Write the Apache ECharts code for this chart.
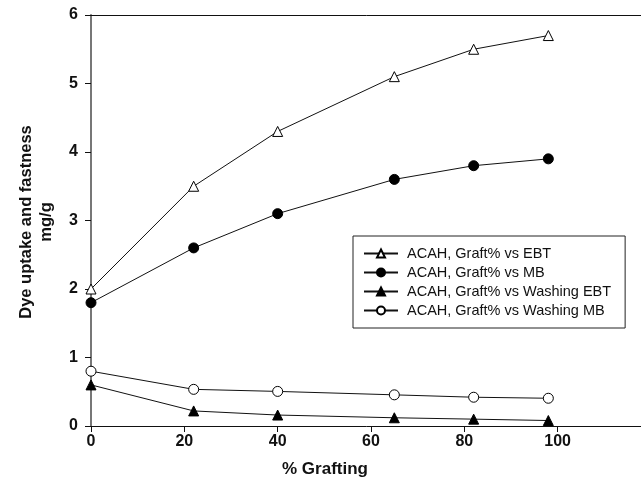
<!DOCTYPE html>
<html>
<head>
<meta charset="utf-8">
<script src="https://cdn.jsdelivr.net/npm/echarts@6/dist/echarts.min.js"></script>
<style>
  html, body { margin: 0; padding: 0; background: #fff; }
  #chart { width: 641px; height: 479px; }
</style>
</head>
<body>
<div id="chart"></div>
<script>
// Grafting percentages (x) and dye uptake / fastness values (mg/g)
const grafting = [0, 22, 40, 65, 82, 98];
const ebt = [2.0, 3.5, 4.3, 5.1, 5.5, 5.7];
const mb = [1.8, 2.6, 3.1, 3.6, 3.8, 3.9];
const washingEbt = [0.6, 0.22, 0.16, 0.12, 0.1, 0.08];
const washingMb = [0.8, 0.535, 0.505, 0.455, 0.42, 0.405];

const seriesNames = [
  'ACAH, Graft% vs EBT',
  'ACAH, Graft% vs MB',
  'ACAH, Graft% vs Washing EBT',
  'ACAH, Graft% vs Washing MB'
];

const FONT = '"Liberation Sans", Arial, sans-serif';

function pairs(ys) {
  return grafting.map((x, i) => [x, ys[i]]);
}

function makeSeries(name, ys, symbol, filled, size) {
  return {
    name: name,
    type: 'line',
    data: pairs(ys),
    symbol: symbol,
    symbolSize: size,
    showAllSymbol: true,
    lineStyle: { color: '#111', width: 1 },
    itemStyle: {
      color: filled ? '#000' : '#fff',
      borderColor: '#000',
      borderWidth: 1
    },
    emphasis: { disabled: true },
    z: 3
  };
}

const chart = echarts.init(document.getElementById('chart'));

chart.setOption({
  animation: false,
  backgroundColor: '#fff',
  // plot frame runs off the right edge of the canvas
  grid: { left: 91, top: 15, width: 560, bottom: 53, outerBoundsMode: 'none', containLabel: false },
  legend: {
    orient: 'vertical',
    left: 353,
    top: 236,
    padding: [10, 14, 10, 10],
    itemGap: 4,
    itemWidth: 34,
    itemHeight: 10,
    borderColor: '#222',
    borderWidth: 1,
    backgroundColor: '#fff',
    textStyle: { fontFamily: FONT, fontSize: 14.5, color: '#111', padding: [0, 0, 0, 4] },
    data: seriesNames
  },
  xAxis: [
    {
      type: 'value',
      min: 0,
      max: 120,
      interval: 20,
      axisLine: { show: true, lineStyle: { color: '#111', width: 1 } },
      axisTick: { show: true, inside: false, length: 6, lineStyle: { color: '#111' } },
      axisLabel: {
        show: true,
        showMaxLabel: false,
        margin: 8,
        fontFamily: FONT,
        fontSize: 16,
        fontWeight: 'bold',
        color: '#111'
      },
      splitLine: { show: false }
    },
    {
      // top frame line
      type: 'value',
      position: 'top',
      min: 0,
      max: 120,
      interval: 20,
      axisLine: { show: true, lineStyle: { color: '#111', width: 1 } },
      axisTick: { show: false },
      axisLabel: { show: false },
      splitLine: { show: false }
    }
  ],
  yAxis: {
    type: 'value',
    min: 0,
    max: 6,
    interval: 1,
    axisLine: { show: true, lineStyle: { color: '#777', width: 2 } },
    axisTick: { show: true, inside: false, length: 6, lineStyle: { color: '#111', width: 1 } },
    axisLabel: {
      margin: 13,
      fontFamily: FONT,
      fontSize: 16,
      fontWeight: 'bold',
      color: '#111'
    },
    splitLine: { show: false }
  },
  graphic: [
    {
      type: 'text',
      x: 325,
      y: 469,
      style: {
        text: '% Grafting',
        font: 'bold 17px ' + FONT,
        fill: '#111',
        align: 'center',
        verticalAlign: 'middle'
      }
    },
    {
      type: 'text',
      x: 36,
      y: 222,
      rotation: Math.PI / 2,
      style: {
        text: 'Dye uptake and fastness\nmg/g',
        font: 'bold 16.5px ' + FONT,
        fill: '#111',
        align: 'center',
        verticalAlign: 'middle',
        lineHeight: 20
      }
    }
  ],
  series: [
    makeSeries(seriesNames[0], ebt, 'triangle', false, 10),
    makeSeries(seriesNames[1], mb, 'circle', true, 10),
    makeSeries(seriesNames[2], washingEbt, 'triangle', true, 10),
    makeSeries(seriesNames[3], washingMb, 'circle', false, 10)
  ]
});
</script>
</body>
</html>
